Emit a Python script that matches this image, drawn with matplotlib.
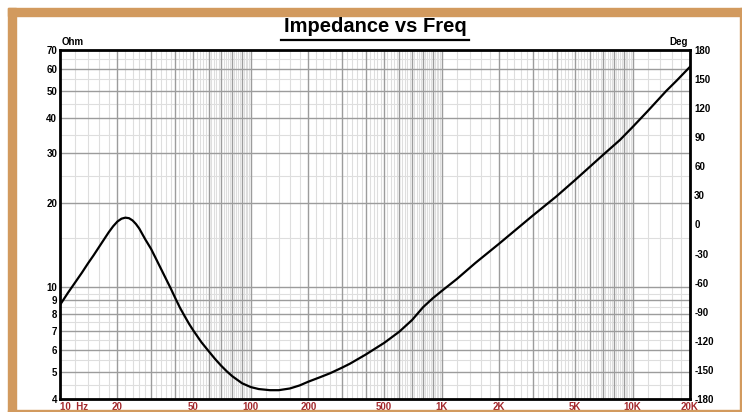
import numpy as np
import matplotlib
matplotlib.use('Agg')
import matplotlib.pyplot as plt
from matplotlib.patches import Rectangle
from matplotlib.lines import Line2D
import matplotlib.transforms as mtrans

plt.rcParams['font.family'] = ['Liberation Sans', 'DejaVu Sans']

# impedance curve (Hz, Ohm)
freq = [10, 11, 12, 13, 14, 15, 16, 17, 18, 19, 20, 21, 22, 23, 24, 25, 26, 28, 30,
        32, 35, 38, 40, 42.5, 45, 47.5, 50, 55, 60, 65, 70, 75, 80, 90, 100, 110, 126,
        140, 160, 180, 200, 230, 260, 300, 330, 400, 500, 600, 700, 800, 900, 1000,
        1200, 1500, 2000, 3000, 4000, 5000, 7000, 8600, 10000, 12000, 15000, 17000,
        20000]
ohm = [8.65, 9.55, 10.4, 11.25, 12.15, 13.0, 13.9, 14.8, 15.7, 16.5, 17.15, 17.55, 17.7,
       17.62, 17.3, 16.8, 16.2, 14.8, 13.7, 12.55, 11.1, 9.92, 9.21, 8.46, 7.89, 7.4,
       7.01, 6.38, 5.93, 5.55, 5.25, 5.01, 4.82, 4.55, 4.41, 4.34, 4.30, 4.30, 4.36,
       4.47, 4.61, 4.78, 4.94, 5.17, 5.34, 5.76, 6.34, 6.95, 7.65, 8.5, 9.15, 9.7, 10.7,
       12.2, 14.3, 18.0, 21.1, 24.1, 29.6, 33.5, 37.2, 42.4, 50.0, 54.4, 61.0]

x_ticks = [10, 20, 50, 100, 200, 500, 1000, 2000, 5000, 10000, 20000]
x_labels = ['10  Hz', '20', '50', '100', '200', '500', '1K', '2K', '5K', '10K', '20K']
y_ticks = [4, 5, 6, 7, 8, 9, 10, 20, 30, 40, 50, 60, 70]
deg_ticks = list(range(-180, 181, 30))

W, H = 742, 412
fig = plt.figure(figsize=(W / 100, H / 100), dpi=100)
fig.patch.set_facecolor('white')

# brown frame
brown = '#d29a5e'
def px_rect(x0, y0, x1, y1):
    fig.patches.append(Rectangle((x0 / W, 1 - y1 / H), (x1 - x0) / W, (y1 - y0) / H,
                                 transform=fig.transFigure, color=brown, zorder=0))
px_rect(8, 8, W, 16)
px_rect(8, 8, 16, H)
px_rect(740, 8, W, H)
px_rect(8, 410, W, H)

ax = fig.add_axes([60 / W, (H - 399) / H, 630 / W, 349 / H])
ax.set_xscale('log')
ax.set_yscale('log')
ax.set_xlim(10, 20000)
ax.set_ylim(4, 70)

# grid: medium lines at integer multiples, fine lines at 0.2 steps
vx = mtrans.blended_transform_factory(ax.transData, ax.transAxes)
hy = mtrans.blended_transform_factory(ax.transAxes, ax.transData)
med_x, fine_x = [], []
for d in [10, 100, 1000, 10000]:
    for k in range(1, 10):
        med_x.append(k * d)
    for k in np.arange(1.2, 10, 0.2):
        if abs(k - round(k)) > 1e-6:
            fine_x.append(k * d)
med_x = [v for v in med_x if 10 < v < 20000]
fine_x = [v for v in fine_x if 10 < v < 20000]
ax.vlines(fine_x, 0, 1, transform=vx, color='#dedede', lw=0.8, zorder=1)
ax.vlines(med_x, 0, 1, transform=vx, color='#9c9c9c', lw=1.0, zorder=2)
fine_y = [4.5, 5.5, 6.5, 7.5, 8.5, 9.5, 15, 25, 35, 45, 55, 65]
ax.hlines(fine_y, 0, 1, transform=hy, color='#dedede', lw=0.8, zorder=1)
ax.hlines(y_ticks[1:-1], 0, 1, transform=hy, color='#9c9c9c', lw=1.0, zorder=2)

ax.plot(freq, ohm, color='black', lw=1.6, zorder=5, solid_joinstyle='round')

for s in ax.spines.values():
    s.set_linewidth(2)
    s.set_color('black')
    s.set_zorder(6)

ax.xaxis.set_minor_locator(matplotlib.ticker.NullLocator())
ax.yaxis.set_minor_locator(matplotlib.ticker.NullLocator())
ax.set_xticks(x_ticks)
ax.set_xticklabels(x_labels, color='#a3282c', fontsize=7, fontweight='bold')
ax.get_xticklabels()[0].set_horizontalalignment('left')
ax.set_yticks(y_ticks)
ax.set_yticklabels([str(v) for v in y_ticks], fontsize=7, fontweight='bold')
ax.tick_params(axis='both', length=0, pad=2)

ax2 = ax.twinx()
ax2.set_ylim(-180, 180)
ax2.set_yticks(deg_ticks)
ax2.set_yticklabels([str(v) for v in deg_ticks], fontsize=7, fontweight='bold')
ax2.tick_params(axis='y', length=0, pad=3)
for s in ax2.spines.values():
    s.set_visible(False)

ax.text(0.003, 1.008, 'Ohm', transform=ax.transAxes, fontsize=7, fontweight='bold',
        ha='left', va='bottom')
ax.text(0.997, 1.008, 'Deg', transform=ax.transAxes, fontsize=7, fontweight='bold',
        ha='right', va='bottom')

fig.text(375 / W, 1 - 27 / H, 'Impedance vs Freq', fontsize=14.5, fontweight='bold',
         ha='center', va='center')
fig.lines.append(Line2D([281 / W, 469 / W], [1 - 40 / H, 1 - 40 / H],
                        transform=fig.transFigure, color='black', lw=1.6))

fig.savefig('out.png', dpi=100)
